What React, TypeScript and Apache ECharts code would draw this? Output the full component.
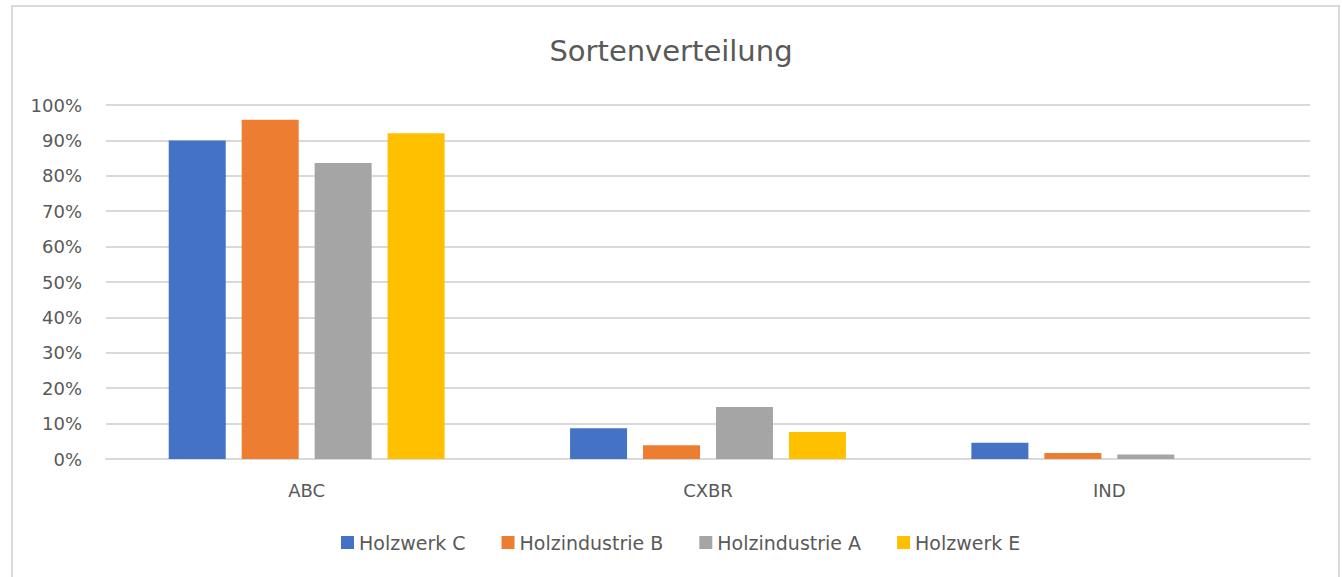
import React, { useEffect, useRef } from "react";
import * as echarts from "echarts";

const title = "Sortenverteilung";
const categories = ["ABC", "CXBR", "IND"];
const seriesNames = ["Holzwerk C", "Holzindustrie B", "Holzindustrie A", "Holzwerk E"];
const holzwerkC = [0.9, 0.087, 0.046];
const holzindustrieB = [0.958, 0.039, 0.017];
const holzindustrieA = [0.836, 0.147, 0.013];
const holzwerkE = [0.92, 0.076, 0];
const colors = ["#4472C4", "#ED7D31", "#A5A5A5", "#FFC000"];

const FONT = "DejaVu Sans";

export default function App() {
  const ref = useRef<HTMLDivElement>(null);
  useEffect(() => {
    document.body.style.margin = "0";
    const chart = echarts.init(ref.current!, undefined, { renderer: "svg" });
    const data = [holzwerkC, holzindustrieB, holzindustrieA, holzwerkE];
    chart.setOption({
      animation: false,
      backgroundColor: "#ffffff",
      color: colors,
      title: {
        text: title,
        left: "center",
        top: 31,
        textStyle: { fontFamily: FONT, fontSize: 29, fontWeight: "normal", color: "#595959" },
      },
      graphic: [
        {
          type: "rect",
          shape: { x: 12, y: 6, width: 1327, height: 590 },
          style: { fill: "none", stroke: "#d9d9d9", lineWidth: 2 },
          silent: true,
        },
      ],
      legend: {
        top: 528,
        left: 336,
        itemWidth: 13,
        itemHeight: 13,
        itemGap: 36,
        icon: "rect",
        textStyle: { fontFamily: FONT, fontSize: 19, color: "#595959" },
        data: seriesNames,
      },
      grid: { left: 106, right: 32, top: 105, bottom: 118 },
      xAxis: {
        type: "category",
        data: categories,
        axisLine: { lineStyle: { color: "#d9d9d9", width: 2 } },
        axisTick: { show: false },
        axisLabel: { fontFamily: FONT, fontSize: 18, color: "#595959", margin: 22 },
      },
      yAxis: {
        type: "value",
        min: 0,
        max: 1,
        interval: 0.1,
        axisLine: { show: false },
        axisTick: { show: false },
        splitLine: { lineStyle: { color: "#d9d9d9", width: 2 } },
        axisLabel: {
          fontFamily: FONT,
          fontSize: 18,
          color: "#595959",
          margin: 24,
          formatter: (v: number) => Math.round(v * 100) + "%",
        },
      },
      series: seriesNames.map((name, i) => ({
        name,
        type: "bar",
        data: data[i],
        barWidth: 57,
        barGap: "28%",
        itemStyle: { color: colors[i] },
      })),
    });
    return () => chart.dispose();
  }, []);
  return <div ref={ref} style={{ width: 1342, height: 577 }} />;
}
